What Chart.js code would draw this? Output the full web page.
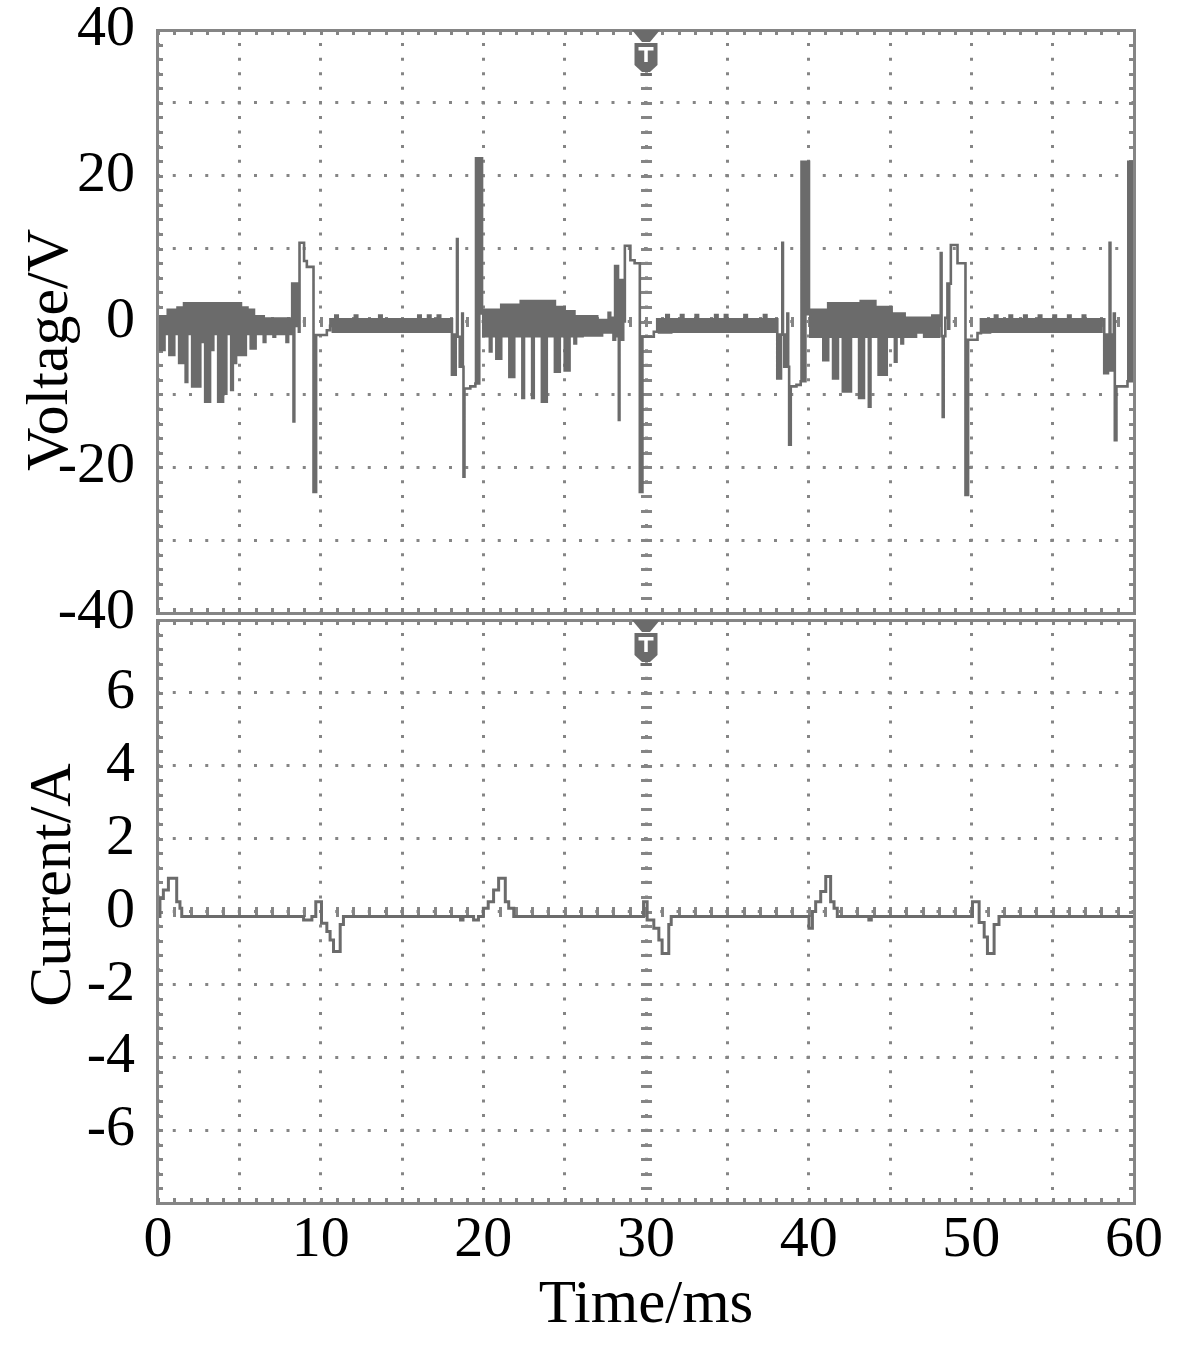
<!DOCTYPE html>
<html>
<head>
<meta charset="utf-8">
<title>Voltage / current waveforms</title>
<script src="https://cdn.jsdelivr.net/npm/chart.js@4.4.1/dist/chart.umd.min.js"></script>
<style>
  html, body { margin: 0; padding: 0; background: #fff; }
  #wrap { position: relative; width: 1186px; height: 1364px; }
  .panel { position: absolute; left: 0; width: 1186px; }
  #voltPanel { top: 0; height: 640px; }
  #currPanel { top: 616px; height: 748px; }
</style>
</head>
<body>
<div id="wrap">
  <div class="panel" id="voltPanel"><canvas id="voltChart"></canvas></div>
  <div class="panel" id="currPanel"><canvas id="currChart"></canvas></div>
</div>
<script>
// ===================================
// DATA (time in ms)
// ===================================
const timeTicks = [0, 10, 20, 30, 40, 50, 60];
const voltTicks = [-40, -20, 0, 20, 40];
const currTicks = [-6, -4, -2, 0, 2, 4, 6];

// voltage: [t, V] pairs, one array per piece of the trace
const vBurstA = [
  [0.0, 0.7], [0.1, -3.9], [0.2, 0.7], [0.3, -3.9], [0.4, 0.7], [0.5, -1.7], [0.6, 1.6], [0.7, -4.6],
  [0.8, 1.6], [0.9, -4.6], [1.0, 1.6], [1.1, -1.7], [1.2, 1.9], [1.3, -5.7], [1.4, 1.9], [1.5, -5.7],
  [1.6, 2.5], [1.7, -8.3], [1.8, 2.5], [1.9, -1.7], [2.0, 2.5], [2.1, -8.9], [2.2, 2.5], [2.3, -8.9],
  [2.4, 2.5], [2.5, -8.9], [2.6, 2.5], [2.7, -2.8], [2.8, 2.5], [2.9, -11.0], [3.0, 2.5], [3.1, -11.0],
  [3.2, 2.5], [3.3, -3.9], [3.4, 2.5], [3.5, -1.7], [3.6, 2.5], [3.7, -11.0], [3.8, 2.5], [3.9, -11.0],
  [4.0, 2.5], [4.1, -9.9], [4.2, 2.5], [4.3, -1.7], [4.4, 2.5], [4.5, -9.4], [4.6, 2.5], [4.7, -5.7],
  [4.8, 2.5], [4.9, -4.6], [5.0, 2.5], [5.1, -4.6], [5.2, 1.9], [5.3, -4.6], [5.4, 1.9], [5.5, -1.7],
  [5.6, 1.6], [5.7, -3.7], [5.8, 1.6], [5.9, -3.7], [6.0, 0.7], [6.1, -1.7], [6.2, 0.7], [6.3, -1.7],
  [6.4, 0.7], [6.5, -2.8], [6.6, 0.4], [6.7, -1.7], [6.8, 0.4], [6.9, -1.7], [7.0, 0.4], [7.1, -2.1],
  [7.2, 0.4], [7.3, -1.7], [7.4, 0.4], [7.5, -1.7], [7.6, 0.4], [7.7, -1.7], [7.8, 0.4], [7.9, -2.8],
  [8.0, 0.4], [8.1, -1.7]
];
const vSwitchA = [
  [8.2, 0.4], [8.25, 5.2], [8.3, -0.6], [8.33, -13.7], [8.38, 5.2], [8.45, -0.6], [8.5, 5.2],
  [8.57, -0.6], [8.62, 5.2], [8.66, -1.4], [8.7, 10.8], [8.98, 8.3], [9.15, 7.5], [9.56, -23.4],
  [9.72, -1.85], [10.38, -1.2], [10.58, -0.6]
];
const vFlatA = [
  [10.6, 0.3], [10.75, -1.4], [10.9, 0.8], [11.05, -1.4], [11.2, 0.3], [11.35, -1.4], [11.5, 0.3],
  [11.65, -1.4], [11.8, 0.3], [11.95, -1.4], [12.1, 0.8], [12.25, -1.4], [12.4, 0.3], [12.55, -1.4],
  [12.7, 0.3], [12.85, -1.4], [13.0, 0.3], [13.15, -1.4], [13.3, 0.3], [13.45, -1.4], [13.6, 0.8],
  [13.75, -1.4], [13.9, 0.3], [14.05, -1.4], [14.2, 0.3], [14.35, -1.4], [14.5, 0.3], [14.65, -1.4],
  [14.8, 0.3], [14.95, -1.4], [15.1, 0.3], [15.25, -1.4], [15.4, 0.3], [15.55, -1.4], [15.7, 0.3],
  [15.85, -1.4], [16.0, 0.8], [16.15, -1.4], [16.3, 0.3], [16.45, -1.4], [16.6, 0.8], [16.75, -1.4],
  [16.9, 0.3], [17.05, -1.4], [17.2, 0.8], [17.35, -1.4], [17.5, 0.3], [17.65, -1.4], [17.8, 0.3],
  [17.95, -1.4]
];
const vPreA = [
  [18.0, 0.3], [18.07, -7.3], [18.15, -1.8], [18.22, -7.3], [18.3, -1.8], [18.38, 11.3], [18.42, -2.1],
  [18.55, -6.2], [18.62, -2.1], [18.66, -6.2], [18.7, 1.1], [18.74, -6.2], [18.78, -21.3], [18.84, -9.2],
  [19.2, -8.9], [19.51, -8.5], [19.55, 22.4], [19.6, -8.5], [19.65, 22.4], [19.7, -8.5], [19.75, 22.4],
  [19.8, 1.1], [19.85, 22.4], [19.92, 1.6]
];
const vBurstB = [
  [20.0, -2.0], [20.1, 1.6], [20.2, -2.0], [20.3, 1.6], [20.4, -4.1], [20.5, 1.6], [20.6, -2.0],
  [20.7, 1.6], [20.8, -5.1], [20.9, 1.6], [21.0, -5.1], [21.1, 2.3], [21.2, -2.0], [21.3, 2.3],
  [21.4, -2.0], [21.5, 2.3], [21.6, -7.6], [21.7, 2.3], [21.8, -7.6], [21.9, 2.3], [22.0, -2.0],
  [22.1, 2.3], [22.2, -2.0], [22.3, 2.8], [22.4, -10.5], [22.5, 2.8], [22.6, -2.0], [22.7, 2.8],
  [22.8, -2.0], [22.9, 2.8], [23.0, -10.5], [23.1, 2.8], [23.2, -2.0], [23.3, 2.8], [23.4, -2.0],
  [23.5, 2.8], [23.6, -11.0], [23.7, 2.8], [23.8, -11.0], [23.9, 2.8], [24.0, -2.0], [24.1, 2.8],
  [24.2, -2.0], [24.3, 2.8], [24.4, -6.9], [24.5, 2.0], [24.6, -6.9], [24.7, 2.0], [24.8, -2.0],
  [24.9, 2.0], [25.0, -6.7], [25.1, 1.4], [25.2, -6.7], [25.3, 1.4], [25.4, -2.0], [25.5, 1.4],
  [25.6, -3.0], [25.7, 0.7], [25.8, -2.0], [25.9, 0.7], [26.0, -2.0], [26.1, 0.7], [26.2, -1.9],
  [26.3, 0.7], [26.4, -1.9], [26.5, 0.7], [26.6, -1.9], [26.7, 0.7], [26.8, -1.9], [26.9, 0.7],
  [27.0, -1.9], [27.1, 0.2], [27.2, -1.9], [27.3, 0.2], [27.4, -1.5], [27.5, 0.2], [27.6, -1.5],
  [27.7, 1.2], [27.8, -1.5], [27.9, 0.5], [28.0, -2.5]
];
const vSwitchB = [
  [28.1, 7.6], [28.16, -2.0], [28.22, 7.6], [28.28, -2.0], [28.33, -13.5], [28.37, 5.7], [28.43, -2.5],
  [28.49, 5.7], [28.55, -2.5], [28.6, 0.0], [28.7, 10.4], [29.04, 8.4], [29.3, 8.0], [29.62, -23.4],
  [29.78, -2.1], [30.48, -1.4], [30.69, 0.3]
];
const vFlatB = [
  [30.8, -1.5], [30.95, 0.3], [31.1, -1.5], [31.25, 0.9], [31.4, -1.5], [31.55, 0.3], [31.7, -1.4],
  [31.85, 0.3], [32.0, -1.4], [32.15, 0.9], [32.3, -1.4], [32.45, 0.3], [32.6, -1.4], [32.75, 0.3],
  [32.9, -1.4], [33.05, 0.9], [33.2, -1.4], [33.35, 0.3], [33.5, -1.4], [33.65, 0.3], [33.8, -1.4],
  [33.95, 0.3], [34.1, -1.4], [34.25, 0.9], [34.4, -1.4], [34.55, 0.3], [34.7, -1.4], [34.85, 0.9],
  [35.0, -1.4], [35.15, 0.3], [35.3, -1.4], [35.45, 0.3], [35.6, -1.4], [35.75, 0.3], [35.9, -1.4],
  [36.05, 0.9], [36.2, -1.4], [36.35, 0.3], [36.5, -1.4], [36.65, 0.3], [36.8, -1.4], [36.95, 0.3],
  [37.1, -1.4], [37.25, 0.9], [37.4, -1.4], [37.55, 0.3], [37.7, -1.4], [37.85, 0.3], [37.95, -1.4]
];
const vPreB = [
  [38.0, 0.3], [38.07, -7.8], [38.14, -1.8], [38.21, -7.8], [38.3, -1.8], [38.38, 10.8], [38.42, -1.8],
  [38.5, -6.2], [38.56, -1.8], [38.62, -6.2], [38.69, 1.1], [38.74, -6.2], [38.8, -16.9], [38.9, -8.9],
  [39.25, -8.7], [39.51, -8.2], [39.56, 21.9], [39.62, -8.2], [39.68, 21.9], [39.74, -8.2], [39.8, 21.9],
  [39.88, 1.0], [39.94, 21.9], [40.02, 1.6]
];
const vBurstC = [
  [40.1, -2.1], [40.2, 1.6], [40.3, -2.1], [40.4, 1.6], [40.5, -2.1], [40.6, 1.6], [40.7, -2.1],
  [40.8, 1.6], [40.9, -5.3], [41.0, 1.6], [41.1, -5.3], [41.2, 2.5], [41.3, -2.1], [41.4, 2.5],
  [41.5, -7.8], [41.6, 2.5], [41.7, -7.8], [41.8, 2.5], [41.9, -2.1], [42.0, 2.5], [42.1, -9.6],
  [42.2, 2.5], [42.3, -9.6], [42.4, 2.5], [42.5, -9.6], [42.6, 2.5], [42.7, -2.1], [42.8, 2.5],
  [42.9, -2.1], [43.0, 2.5], [43.1, -10.5], [43.2, 2.8], [43.3, -10.5], [43.4, 2.8], [43.5, -2.1],
  [43.6, 2.8], [43.7, -11.7], [43.8, 2.8], [43.9, -2.1], [44.0, 2.8], [44.1, -2.1], [44.2, 2.0],
  [44.3, -7.3], [44.4, 2.0], [44.5, -7.3], [44.6, 2.0], [44.7, -7.3], [44.8, 2.0], [44.9, -2.1],
  [45.0, 2.0], [45.1, -2.1], [45.2, 1.1], [45.3, -5.5], [45.4, 1.1], [45.5, -2.1], [45.6, 1.1],
  [45.7, -3.0], [45.8, 1.1], [45.9, -2.1], [46.0, 0.5], [46.1, -2.1], [46.2, 0.5], [46.3, -2.1],
  [46.4, 0.5], [46.5, -2.1], [46.6, 0.5], [46.7, -1.5], [46.8, 0.5], [46.9, -1.5], [47.0, 0.5],
  [47.1, -2.1], [47.2, 0.5], [47.3, -2.1]
];
const vSwitchC = [
  [47.4, 0.5], [47.5, -2.1], [47.6, 0.8], [47.7, -2.1], [47.8, 0.8], [47.9, -2.1], [48.0, 0.8],
  [48.12, 9.4], [48.17, -2.0], [48.24, -13.1], [48.3, -2.0], [48.4, 0.5], [48.53, 5.2], [48.58, -1.0],
  [48.64, 5.2], [48.74, 10.5], [49.15, 8.0], [49.64, -23.8], [49.8, -2.5], [50.38, -1.6], [50.59, 0.3]
];
const vFlatC = [
  [50.7, -1.5], [50.85, 0.3], [51.0, -1.5], [51.15, 0.3], [51.3, -1.4], [51.45, 0.8], [51.6, -1.4],
  [51.75, 0.3], [51.9, -1.4], [52.05, 0.3], [52.2, -1.4], [52.35, 0.8], [52.5, -1.4], [52.65, 0.3],
  [52.8, -1.4], [52.95, 0.3], [53.1, -1.4], [53.25, 0.8], [53.4, -1.4], [53.55, 0.3], [53.7, -1.4],
  [53.85, 0.3], [54.0, -1.4], [54.15, 0.8], [54.3, -1.4], [54.45, 0.3], [54.6, -1.4], [54.75, 0.3],
  [54.9, -1.4], [55.05, 0.8], [55.2, -1.4], [55.35, 0.3], [55.5, -1.4], [55.65, 0.3], [55.8, -1.4],
  [55.95, 0.8], [56.1, -1.4], [56.25, 0.3], [56.4, -1.4], [56.55, 0.3], [56.7, -1.4], [56.85, 0.8],
  [57.0, -1.4], [57.15, 0.3], [57.3, -1.4], [57.45, 0.3], [57.6, -1.4], [57.75, 0.3], [57.9, -1.4],
  [58.0, 0.3]
];
const vPreC = [
  [58.1, 0.3], [58.17, -7.1], [58.24, -1.8], [58.31, -7.1], [58.4, -1.8], [58.5, 10.8], [58.55, -6.7],
  [58.62, -1.8], [58.68, -6.7], [58.76, 1.1], [58.82, -16.3], [58.92, -8.9], [59.3, -8.9], [59.6, -8.2],
  [59.65, 21.9], [59.7, -8.2], [59.75, 21.9], [59.8, -8.2], [59.85, 21.9], [59.9, -8.2], [59.95, 21.9],
  [60.0, 21.9]
];

// current: [t, A] pairs (value holds until the next point)
const iPulseA = [
  [0.0, -0.14], [0.12, 0.36], [0.33, 0.59], [0.64, 0.91], [1.15, 0.27], [1.35, 0.09], [1.46, -0.14],
  [8.95, -0.23], [9.46, -0.14], [9.7, 0.27], [10.05, -0.32], [10.38, -0.55], [10.58, -0.78],
  [10.79, -1.10], [11.2, -0.36], [11.4, -0.14]
];
const iPulseB = [
  [18.6, -0.23], [18.75, -0.14], [19.4, -0.23], [19.7, -0.14], [20.0, 0.09], [20.3, 0.27], [20.63, 0.59],
  [20.94, 0.91], [21.35, 0.27], [21.56, 0.09], [21.87, -0.14], [29.85, 0.27], [30.07, -0.23],
  [30.48, -0.46], [30.79, -0.78], [30.99, -1.15], [31.4, -0.36], [31.55, -0.14]
];
const iPulseC = [
  [40.02, -0.46], [40.23, 0.0], [40.43, 0.27], [40.74, 0.55], [41.05, 0.96], [41.35, 0.27], [41.56, 0.09],
  [41.76, -0.14], [43.7, -0.23], [43.85, -0.14], [50.07, 0.27], [50.48, -0.30], [50.79, -0.70],
  [50.99, -1.15], [51.4, -0.36], [51.7, -0.14], [60.0, -0.14]
];

// ===================================
// STYLE
// ===================================
const TRACE = '#6b6b6b';
const GRID = '#858585';
const SERIF = '"Liberation Serif", "Times New Roman", serif';
Chart.defaults.font.family = SERIF;
Chart.defaults.color = '#000';

function toPoints(...parts) {
  return parts.flat().map(p => ({ x: p[0], y: p[1] })).sort((a, b) => a.x - b.x);
}

// no extra room for half-labels, the plot box is fixed
function noScalePadding(s) {
  s.paddingTop = 0;
  s.paddingBottom = 0;
  s.paddingLeft = 0;
  s.paddingRight = 0;
}

// PLUGIN: scope frame, minor ticks, trigger mark, rotated y title
const scopePlugin = {
  id: 'scope',
  beforeDatasetsDraw(chart, args, opts) {
    const { ctx, chartArea: a, scales: { x, y } } = chart;
    const xc = x.getPixelForValue(30);
    const yc = y.getPixelForValue(0);
    ctx.save();
    ctx.fillStyle = GRID;
    for (let i = 0; i <= 60; i++) {
      const px = Math.round(x.getPixelForValue(i));
      ctx.fillRect(px - 1, a.top, 3, 5);
      ctx.fillRect(px - 1, a.bottom - 5, 3, 5);
      ctx.fillRect(px - 1, Math.round(yc) - 5, 3, 10);
    }
    for (let i = 0; i <= 40; i++) {
      const py = Math.round(y.getPixelForValue(y.min + i * opts.minorY));
      ctx.fillRect(a.left, py - 1, 5, 3);
      ctx.fillRect(a.right - 5, py - 1, 5, 3);
      ctx.fillRect(Math.round(xc) - 5, py - 1, 11, 3);
    }
    ctx.restore();
  },
  afterDraw(chart, args, opts) {
    const { ctx, chartArea: a, scales: { x } } = chart;
    ctx.save();
    // frame
    ctx.strokeStyle = GRID;
    ctx.lineWidth = 3;
    ctx.strokeRect(a.left - 0.5, a.top + 0.5, a.right - a.left + 1, a.bottom - a.top);
    // trigger marker "T" on the 30 ms line
    const cx = x.getPixelForValue(30);
    const t = a.top;
    ctx.fillStyle = TRACE;
    ctx.beginPath();
    ctx.moveTo(cx - 14, t); ctx.lineTo(cx + 14, t); ctx.lineTo(cx + 4, t + 12); ctx.lineTo(cx - 4, t + 12);
    ctx.closePath(); ctx.fill();
    ctx.beginPath();
    ctx.moveTo(cx - 11.5, t + 13); ctx.lineTo(cx + 11.5, t + 13); ctx.lineTo(cx + 11.5, t + 35);
    ctx.lineTo(cx + 4, t + 42); ctx.lineTo(cx - 4, t + 42); ctx.lineTo(cx - 11.5, t + 35);
    ctx.closePath(); ctx.fill();
    ctx.fillRect(cx - 5.5, t + 43, 11, 3);
    ctx.fillStyle = '#fff';
    ctx.fillRect(cx - 7.5, t + 17, 15, 3.5);
    ctx.fillRect(cx - 1.75, t + 17, 3.5, 15);
    // y axis title
    ctx.fillStyle = '#000';
    ctx.font = '60px ' + SERIF;
    ctx.translate(opts.titleX, opts.titleY);
    ctx.rotate(-Math.PI / 2);
    ctx.textAlign = 'center';
    ctx.textBaseline = 'alphabetic';
    ctx.fillText(opts.title, 0, 0);
    ctx.restore();
  }
};

// COMPONENT: one scope panel
function makePanel(canvasId, cfg) {
  const minorXpx = 975 / 60;   // 1 ms
  const minorYpx = 583 / 40;
  return new Chart(document.getElementById(canvasId), {
    type: 'line',
    data: {
      datasets: [{
        data: cfg.points,
        borderColor: TRACE,
        borderWidth: cfg.lineWidth,
        pointRadius: 0,
        stepped: true,
        fill: false
      }]
    },
    options: {
      responsive: true,
      maintainAspectRatio: false,
      animation: false,
      layout: { padding: { top: cfg.padTop, right: 52, bottom: 0, left: 0 } },
      plugins: {
        legend: { display: false },
        tooltip: { enabled: false },
        scope: { title: cfg.title, titleX: cfg.titleX, titleY: cfg.titleY, minorY: cfg.minorY }
      },
      scales: {
        x: {
          type: 'linear', min: 0, max: 60,
          afterFit: s => { s.height = cfg.xHeight; noScalePadding(s); },
          ticks: {
            display: cfg.showTime, stepSize: 5, autoSkip: false, maxRotation: 0, padding: 3,
            font: { size: 58 }, color: '#000',
            callback: v => timeTicks.includes(v) ? String(v) : ''
          },
          grid: { color: GRID, lineWidth: 3, drawTicks: false },
          border: { display: false, dash: [3, minorYpx - 3], dashOffset: 1.5 },
          title: {
            display: cfg.showTime, text: 'Time/ms', color: '#000',
            font: { size: 61 }, padding: { top: 0, bottom: 21 }
          }
        },
        y: {
          min: cfg.yMin, max: cfg.yMax,
          afterFit: s => { s.width = 158; noScalePadding(s); },
          ticks: {
            stepSize: cfg.yStep, autoSkip: false, padding: 23,
            font: { size: 58 }, color: '#000',
            callback: v => cfg.yLabels.includes(v) ? String(v) : ''
          },
          grid: { color: GRID, lineWidth: 3, drawTicks: false },
          border: { display: false, dash: [3, minorXpx - 3], dashOffset: 1.5 }
        }
      }
    },
    plugins: [scopePlugin]
  });
}

makePanel('voltChart', {
  points: toPoints(vBurstA, vSwitchA, vFlatA, vPreA, vBurstB, vSwitchB, vFlatB, vPreB,
                   vBurstC, vSwitchC, vFlatC, vPreC),
  lineWidth: 2.6,
  padTop: 30, xHeight: 27, showTime: false,
  yMin: -40, yMax: 40, yStep: 10, yLabels: voltTicks, minorY: 2,
  title: 'Voltage/V', titleX: 67, titleY: 350
});

makePanel('currChart', {
  points: toPoints(iPulseA, iPulseB, iPulseC),
  lineWidth: 3,
  padTop: 4, xHeight: 161, showTime: true,
  yMin: -8, yMax: 8, yStep: 2, yLabels: currTicks, minorY: 0.4,
  title: 'Current/A', titleX: 70, titleY: 269
});
</script>
</body>
</html>
